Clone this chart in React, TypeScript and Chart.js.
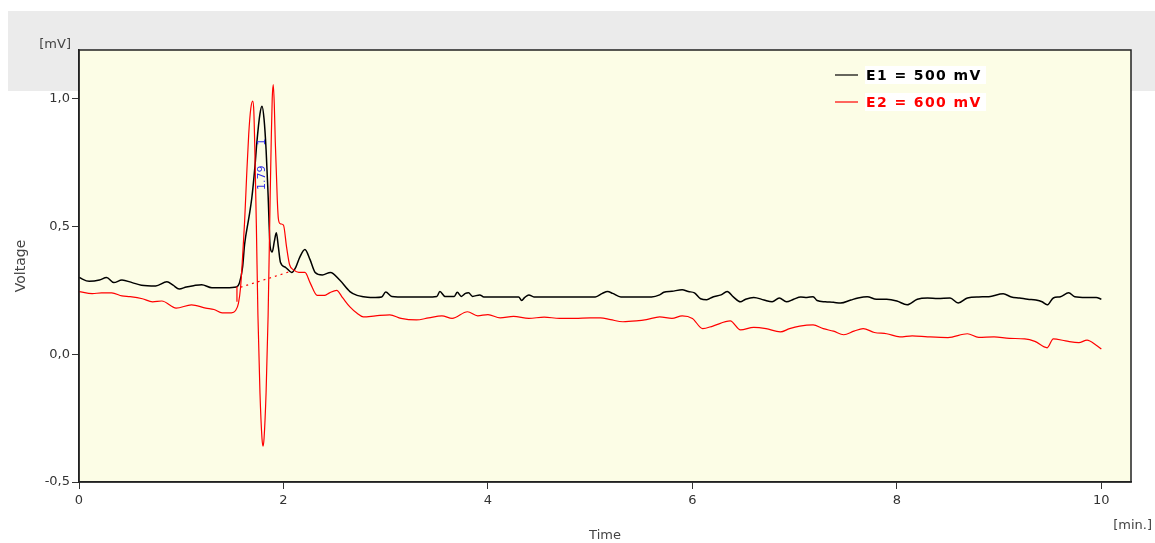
import { useEffect, useRef } from "react";
import { Chart, registerables } from "chart.js";
Chart.register(...registerables);

// ---- data ----
const xTickValues = [0, 2, 4, 6, 8, 10];
const yTickValues = [-0.5, 0, 0.5, 1.0];

const e1Label = "E1 = 500 mV";
const e2Label = "E2 = 600 mV";

const e1Times = [
  0, 0.1, 0.2, 0.27, 0.34, 0.42, 0.52, 0.61, 0.75, 0.86,
  0.92, 0.98, 1.05, 1.12, 1.2, 1.3, 1.44, 1.54, 1.57, 1.6,
  1.62, 1.66, 1.69, 1.72, 1.74, 1.77, 1.79, 1.81, 1.83, 1.85,
  1.87, 1.89, 1.91, 1.93, 1.95, 1.97, 2.02, 2.08, 2.12, 2.16,
  2.21, 2.26, 2.31, 2.38, 2.46, 2.55, 2.65, 2.72, 2.78, 2.85,
  2.9, 2.96, 3.0, 3.06, 3.2, 3.4, 3.5, 3.53, 3.58, 3.67,
  3.7, 3.74, 3.78, 3.81, 3.85, 3.92, 3.96, 4.2, 4.3, 4.33,
  4.36, 4.4, 4.45, 4.8, 5.05, 5.12, 5.17, 5.22, 5.3, 5.6,
  5.68, 5.72, 5.8, 5.9, 5.96, 6.02, 6.08, 6.14, 6.2, 6.28,
  6.34, 6.4, 6.47, 6.52, 6.6, 6.7, 6.78, 6.85, 6.92, 6.99,
  7.06, 7.12, 7.18, 7.22, 7.3, 7.38, 7.45, 7.55, 7.62, 7.71,
  7.8, 7.9, 8.0, 8.1, 8.2, 8.3, 8.4, 8.52, 8.6, 8.69,
  8.8, 8.9, 9.04, 9.12, 9.2, 9.28, 9.36, 9.42, 9.47, 9.53,
  9.6, 9.68, 9.74, 9.85, 9.95, 10.0,
];
const e1Values = [
  0.30, 0.285, 0.29, 0.30, 0.28, 0.29, 0.28, 0.27, 0.267, 0.283,
  0.27, 0.255, 0.263, 0.268, 0.272, 0.26, 0.26, 0.263, 0.28, 0.34,
  0.43, 0.53, 0.61, 0.73, 0.83, 0.94, 0.97, 0.92, 0.80, 0.62,
  0.42, 0.40, 0.44, 0.475, 0.42, 0.36, 0.34, 0.32, 0.34, 0.38,
  0.41, 0.37, 0.32, 0.31, 0.32, 0.29, 0.245, 0.23, 0.225, 0.222,
  0.222, 0.224, 0.243, 0.226, 0.224, 0.224, 0.226, 0.245, 0.226, 0.226,
  0.242, 0.226, 0.238, 0.240, 0.226, 0.232, 0.224, 0.224, 0.224, 0.21,
  0.222, 0.232, 0.224, 0.224, 0.224, 0.238, 0.245, 0.238, 0.224, 0.224,
  0.232, 0.242, 0.246, 0.252, 0.245, 0.24, 0.217, 0.213, 0.224, 0.232,
  0.245, 0.224, 0.205, 0.215, 0.222, 0.212, 0.205, 0.22, 0.205, 0.215,
  0.224, 0.222, 0.225, 0.21, 0.205, 0.203, 0.2, 0.212, 0.22, 0.225,
  0.215, 0.215, 0.208, 0.193, 0.215, 0.22, 0.218, 0.22, 0.20, 0.22,
  0.224, 0.225, 0.236, 0.224, 0.22, 0.215, 0.212, 0.205, 0.193, 0.22,
  0.225, 0.24, 0.225, 0.222, 0.222, 0.215,
];

const e2Times = [
  0, 0.13, 0.22, 0.32, 0.42, 0.5, 0.62, 0.72, 0.81, 0.95,
  1.1, 1.24, 1.32, 1.4, 1.49, 1.53, 1.56, 1.58, 1.6, 1.62,
  1.64, 1.66, 1.68, 1.7, 1.71, 1.72, 1.735, 1.75, 1.77, 1.79,
  1.8, 1.81, 1.83, 1.85, 1.87, 1.88, 1.89, 1.9, 1.91, 1.92,
  1.94, 1.95, 1.97, 2.0, 2.03, 2.06, 2.1, 2.15, 2.21, 2.26,
  2.33, 2.4, 2.45, 2.52, 2.58, 2.65, 2.72, 2.78, 2.9, 3.04,
  3.15, 3.3, 3.42, 3.55, 3.65, 3.8, 3.9, 4.0, 4.12, 4.25,
  4.4, 4.55, 4.7, 4.85, 5.0, 5.1, 5.2, 5.32, 5.45, 5.55,
  5.68, 5.8, 5.9, 6.0, 6.1, 6.2, 6.37, 6.47, 6.6, 6.72,
  6.86, 6.95, 7.05, 7.18, 7.28, 7.38, 7.48, 7.58, 7.67, 7.78,
  7.9, 8.03, 8.15, 8.3, 8.5, 8.69, 8.8, 8.95, 9.1, 9.25,
  9.35, 9.47, 9.53, 9.65, 9.78, 9.86, 9.95, 10.0,
];
const e2Values = [
  0.245, 0.237, 0.24, 0.24, 0.228, 0.225, 0.217, 0.205, 0.208, 0.18,
  0.193, 0.18, 0.175, 0.162, 0.162, 0.17, 0.2, 0.26, 0.38, 0.52,
  0.70, 0.86, 0.96, 0.99, 0.95, 0.80, 0.50, 0.155, -0.15, -0.33,
  -0.36, -0.33, -0.15, 0.155, 0.62, 0.83, 1.0, 1.055, 0.98, 0.83,
  0.60, 0.53, 0.51, 0.505, 0.42, 0.35, 0.33, 0.32, 0.32, 0.28,
  0.23, 0.23, 0.24, 0.25, 0.22, 0.185, 0.16, 0.146, 0.15, 0.154,
  0.14, 0.134, 0.142, 0.15, 0.14, 0.166, 0.15, 0.155, 0.142, 0.148,
  0.14, 0.145, 0.14, 0.14, 0.142, 0.142, 0.135, 0.127, 0.13, 0.135,
  0.146, 0.14, 0.15, 0.14, 0.10, 0.11, 0.13, 0.095, 0.105, 0.10,
  0.087, 0.10, 0.11, 0.115, 0.10, 0.09, 0.076, 0.09, 0.10, 0.085,
  0.08, 0.068, 0.072, 0.068, 0.065, 0.08, 0.066, 0.068, 0.062, 0.06,
  0.05, 0.025, 0.06, 0.052, 0.045, 0.055, 0.035, 0.02,
];

// integration baseline of peak 1 (dotted) and its start marker
const baselineTimes = [1.58, 2.08];
const baselineValues = [0.262, 0.325];
const markerTimes = [1.545, 1.545];
const markerValues = [0.265, 0.205];

// peak annotation
const peakTime = 1.79;
const peakLabel = "1.79";
const peakLabelValue = 0.69;
const peakNumber = "1";
const peakNumberValue = 0.83;

const xMin = 0;
const xMax = 10.29;
const yMin = -0.5;
const yMax = 1.19;

const FONT = "'DejaVu Sans', Verdana, sans-serif";

function pts(t: number[], v: number[]) {
  return t.map((x, i) => ({ x, y: v[i] }));
}

export default function App() {
  const ref = useRef<HTMLCanvasElement>(null);
  useEffect(() => {
    document.body.style.margin = "0";
    const decor = {
      id: "decor",
      beforeDraw(chart: any) {
        const { ctx, chartArea: a, width, height } = chart;
        ctx.save();
        ctx.fillStyle = "#ffffff";
        ctx.fillRect(0, 0, width, height);
        ctx.fillStyle = "#ebebeb";
        ctx.fillRect(8, 11, width - 8, 80);
        ctx.fillStyle = "#fcfde6";
        ctx.fillRect(a.left, a.top, a.right - a.left, a.bottom - a.top);
        ctx.restore();
      },
      afterDatasetsDraw(chart: any) {
        const { ctx, scales } = chart;
        const x = scales.x.getPixelForValue(peakTime);
        ctx.save();
        ctx.fillStyle = "#2b2be6";
        ctx.font = `11px ${FONT}`;
        ctx.textAlign = "center";
        ctx.textBaseline = "middle";
        const y1 = scales.y.getPixelForValue(peakLabelValue);
        ctx.translate(x, y1);
        ctx.rotate(-Math.PI / 2);
        ctx.fillText(peakLabel, 0, 0);
        ctx.restore();
        ctx.save();
        ctx.fillStyle = "#2b2be6";
        ctx.font = `11px ${FONT}`;
        ctx.textAlign = "center";
        ctx.textBaseline = "middle";
        const y2 = scales.y.getPixelForValue(peakNumberValue);
        ctx.translate(x, y2);
        ctx.rotate(-Math.PI / 2);
        ctx.fillText(peakNumber, 0, 0);
        ctx.restore();
      },
      afterDraw(chart: any) {
        const { ctx, chartArea: a } = chart;
        ctx.save();
        ctx.strokeStyle = "#222";
        ctx.lineWidth = 1.5;
        ctx.strokeRect(a.left, a.top, a.right - a.left, a.bottom - a.top);

        // axis titles / units
        ctx.fillStyle = "#444";
        ctx.font = `13px ${FONT}`;
        ctx.textBaseline = "middle";
        ctx.textAlign = "right";
        ctx.fillText("[mV]", 71, 45);
        ctx.fillText("[min.]", 1152, 526);
        ctx.textAlign = "center";
        ctx.fillText("Time", (a.left + a.right) / 2, 536);
        ctx.save();
        ctx.translate(21, 266);
        ctx.rotate(-Math.PI / 2);
        ctx.font = `14px ${FONT}`;
        ctx.fillText("Voltage", 0, 0);
        ctx.restore();

        // legend
        const items = [
          { label: e1Label, color: "#000000", y: 75 },
          { label: e2Label, color: "#ff0000", y: 102 },
        ];
        ctx.font = `bold 14px ${FONT}`;
        (ctx as any).letterSpacing = "1.4px";
        ctx.textAlign = "left";
        for (const it of items) {
          ctx.fillStyle = "#ffffff";
          ctx.fillRect(865, it.y - 9, 121, 18);
          ctx.strokeStyle = it.color;
          ctx.lineWidth = 1.2;
          ctx.beginPath();
          ctx.moveTo(835, it.y);
          ctx.lineTo(858, it.y);
          ctx.stroke();
          ctx.fillStyle = it.color;
          ctx.fillText(it.label, 866, it.y + 1);
        }
        ctx.restore();
      },
    };

    const chart = new Chart(ref.current!, {
      type: "line",
      data: {
        datasets: [
          {
            label: "baseline",
            data: pts(baselineTimes, baselineValues),
            borderColor: "#ff0000",
            borderWidth: 1.2,
            borderDash: [2, 4],
            pointRadius: 0,
          },
          {
            label: "marker",
            data: pts(markerTimes, markerValues),
            borderColor: "#ff0000",
            borderWidth: 1.2,
            pointRadius: 0,
          },
          {
            label: e2Label,
            data: pts(e2Times, e2Values),
            borderColor: "#ff0000",
            borderWidth: 1.2,
            pointRadius: 0,
            cubicInterpolationMode: "monotone",
          },
          {
            label: e1Label,
            data: pts(e1Times, e1Values),
            borderColor: "#000000",
            borderWidth: 1.5,
            pointRadius: 0,
            cubicInterpolationMode: "monotone",
          },
        ],
      },
      options: {
        responsive: false,
        animation: false,
        devicePixelRatio: 1,
        layout: { padding: { top: 50, right: 24, left: 0, bottom: 0 } },
        plugins: { legend: { display: false }, tooltip: { enabled: false } },
        scales: {
          x: {
            type: "linear",
            min: xMin,
            max: xMax,
            afterFit: (s: any) => {
              s.height = 61;
            },
            afterBuildTicks: (s: any) => {
              s.ticks = xTickValues.map((value) => ({ value }));
            },
            grid: {
              drawOnChartArea: false,
              tickLength: 7,
              color: "#333",
            },
            border: { display: true, color: "#222", width: 1.5 },
            ticks: {
              color: "#333",
              padding: 4,
              maxRotation: 0,
              font: { family: FONT, size: 13 },
              callback: (v: any) => String(v),
            },
          },
          y: {
            type: "linear",
            min: yMin,
            max: yMax,
            afterFit: (s: any) => {
              s.width = 79;
            },
            afterBuildTicks: (s: any) => {
              s.ticks = yTickValues.map((value) => ({ value }));
            },
            grid: {
              drawOnChartArea: false,
              tickLength: 7,
              color: "#333",
            },
            border: { display: true, color: "#222", width: 1.5 },
            ticks: {
              color: "#333",
              padding: 2,
              font: { family: FONT, size: 13 },
              callback: (v: any) => Number(v).toFixed(1).replace(".", ","),
            },
          },
        },
      },
      plugins: [decor],
    } as any);
    return () => chart.destroy();
  }, []);
  return (
    <div style={{ position: "relative", width: 1155, height: 543 }}>
      <canvas ref={ref} width={1155} height={543} />
    </div>
  );
}
